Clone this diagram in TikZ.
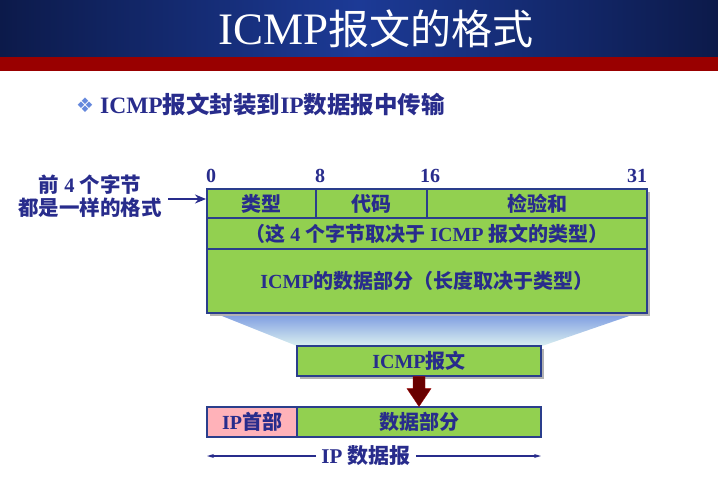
\documentclass[tikz,border=0pt]{standalone}
\usepackage{fontspec}
\setmainfont{Liberation Serif}
\newfontfamily\cjk{Noto Sans CJK SC}
\newfontfamily\symfont{DejaVu Sans}
\newcommand\zh[1]{{\cjk #1}}
\usetikzlibrary{arrows.meta,calc}
\definecolor{navy}{RGB}{40,44,140}
\definecolor{fieldgreen}{RGB}{146,208,80}
\definecolor{edgeblue}{RGB}{42,62,140}
\definecolor{headerpink}{RGB}{255,178,185}
\definecolor{arrowred}{RGB}{105,0,0}
\definecolor{bandred}{RGB}{153,0,0}
\definecolor{bannerdark}{RGB}{12,26,74}
\definecolor{bannerlight}{RGB}{28,58,150}
\definecolor{bulletblue}{RGB}{100,135,220}
\definecolor{funneltop}{RGB}{125,155,225}
\definecolor{funnelbottom}{RGB}{218,240,240}
\begin{document}
\begin{tikzpicture}[x=1pt,y=-1pt,
  cell/.style={draw=edgeblue, line width=1.1pt, fill=fieldgreen, inner sep=0pt,
    text=navy, font=\fontsize{20}{23}\selectfont\bfseries},
  bitno/.style={text=navy, font=\fontsize{20}{22}\selectfont\bfseries, inner sep=0pt},
  shadowbox/.style={fill=black!30}]
\useasboundingbox (0,0) rectangle (718,501);

% title banner
\shade[left color=bannerdark, right color=bannerdark, middle color=bannerlight]
  (0,0) rectangle (718,57);
\fill[bandred] (0,57) rectangle (718,71);
\node[text=white, inner sep=0pt] (title) at (376,29)
  {\fontsize{45}{48}\selectfont ICMP{\cjk\fontsize{41}{44}\selectfont 报文的格式}};

% headline with bullet
\node[anchor=west, inner sep=0pt, text=bulletblue] (bullet) at (76,105)
  {\symfont\fontsize{20}{22}\selectfont ❖};
\node[anchor=west, inner sep=0pt, text=navy] (headline) at (100,105)
  {\fontsize{23.5}{26}\selectfont\bfseries ICMP\zh{报文封装到}IP\zh{数据报中传输}};

% funnel between the full format and the compact box
\shade[top color=funneltop, bottom color=funnelbottom]
  (217,314) -- (635,314) -- (542,346) -- (297,346) -- cycle;

% shadow of the format table
\fill[shadowbox] (210,192) rectangle (650,316);

% format table
\node[cell, minimum width=109pt, minimum height=29pt] (typ)  at (261.5,203.5) {\zh{类型}};
\node[cell, minimum width=111pt, minimum height=29pt] (code) at (371.5,203.5) {\zh{代码}};
\node[cell, minimum width=220pt, minimum height=29pt] (csum) at (537,203.5)  {\zh{检验和}};
\node[cell, minimum width=440pt, minimum height=31pt] (row2) at (427,233.5)
  {\zh{（这} 4 \zh{个字节取决于} ICMP \zh{报文的类型）}};
\node[cell, minimum width=440pt, minimum height=64pt] (row3) at (427,281)
  {ICMP\zh{的数据部分（长度取决于类型）}};

% bit positions
\node[bitno] (b0)  at (211,176) {0};
\node[bitno] (b8)  at (320,176) {8};
\node[bitno] (b16) at (430,176) {16};
\node[bitno] (b31) at (637,176) {31};

% note on the first four bytes
\node[text=navy, align=center, inner sep=0pt,
  font=\fontsize{20.5}{23}\selectfont\bfseries] (note) at (90,196)
  {\zh{前} 4 \zh{个字节}\\\zh{都是一样的格式}};
\coordinate (notetail) at (168,199);
\coordinate (notehead) at (206,199);
\draw[navy, line width=2.2pt, -{Stealth[length=11pt,width=9pt]}] (notetail) -- (notehead);

% compact ICMP message box
\fill[shadowbox] (300,349) rectangle (544,379);
\node[cell, minimum width=244pt, minimum height=30pt] (icmp) at (419,361) {ICMP\zh{报文}};

% IP datagram
\node[cell, fill=headerpink, minimum width=90pt, minimum height=30pt] (iphead) at (252,422) {IP\zh{首部}};
\node[cell, minimum width=244pt, minimum height=30pt] (ipdata) at (419,422) {\zh{数据部分}};

% encapsulation arrow
\fill[arrowred, draw=red!60!black, line width=0.4pt]
  ($(icmp.south)+(-6,0)$) -- ($(icmp.south)+(6,0)$) -- ($(icmp.south)+(6,12)$)
  -- ($(icmp.south)+(12,12)$) -- (ipdata.north) -- ($(icmp.south)+(-12,12)$)
  -- ($(icmp.south)+(-6,12)$) -- cycle;

% datagram extent
\node[text=navy, inner sep=5pt, font=\fontsize{21}{23}\selectfont\bfseries] (iplabel) at (366,456)
  {IP \zh{数据报}};
\coordinate (ipleft) at (207,456);
\coordinate (ipright) at (541,456);
\draw[navy, line width=1.3pt, -{Stealth[length=7pt,width=4pt]}] (iplabel.west) -- (ipleft);
\draw[navy, line width=1.3pt, -{Stealth[length=7pt,width=4pt]}] (iplabel.east) -- (ipright);
\end{tikzpicture}
\end{document}
